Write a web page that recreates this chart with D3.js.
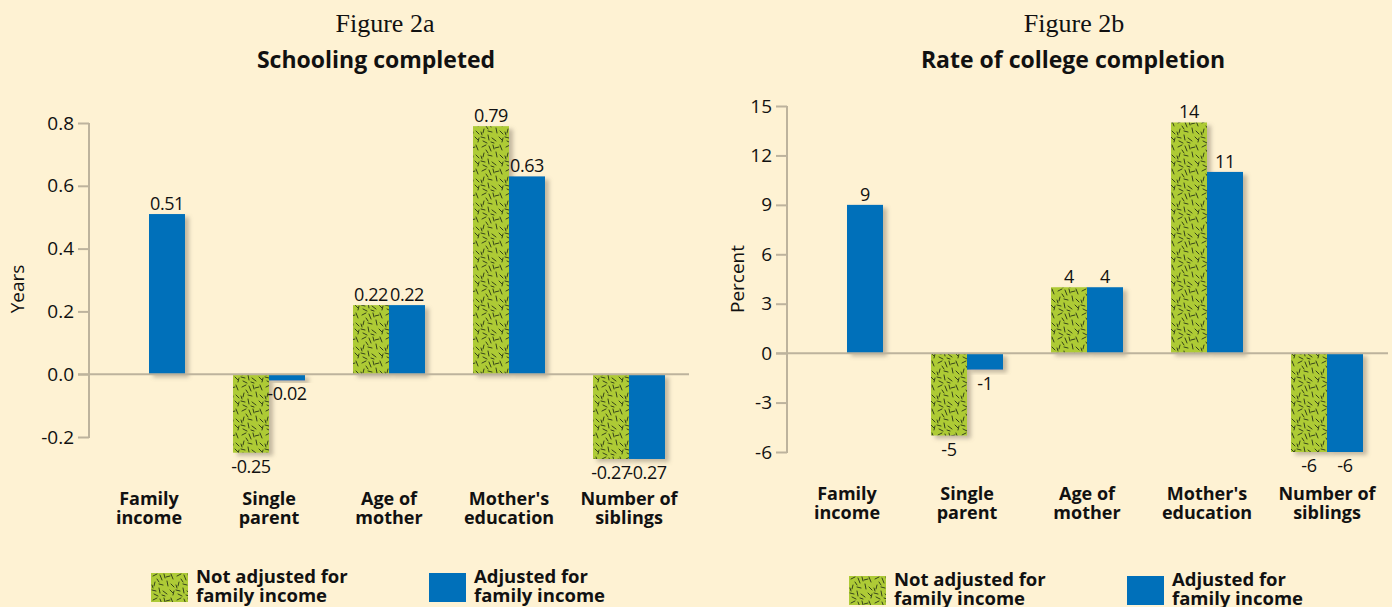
<!DOCTYPE html>
<html>
<head>
<meta charset="utf-8">
<script src="https://cdn.jsdelivr.net/npm/d3@7"></script>
<style>
  body { margin: 0; background: #fef2d3; }
  text { font-family: "Open Sans", sans-serif; fill: #111; }
  .fig { font-family: "Liberation Serif", serif; font-size: 26px; }
  .ttl { font-weight: 700; font-size: 23px; }
  .tick-lbl { font-size: 19px; }
  .val { font-size: 18px; letter-spacing: -0.4px; }
  .cat { font-weight: 700; font-size: 18px; }
  .leg { font-weight: 700; font-size: 18.5px; }
</style>
</head>
<body>
<div class="container"></div>
<script>
// ---- data ----
var categories = [["Family", "income"], ["Single", "parent"], ["Age of", "mother"], ["Mother's", "education"], ["Number of", "siblings"]];
var seriesNames = [["Not adjusted for", "family income"], ["Adjusted for", "family income"]];

var schoolingNotAdj = [null, -0.25, 0.22, 0.79, -0.27];
var schoolingAdj    = [0.51, -0.02, 0.22, 0.63, -0.27];
var schoolingTicks  = [-0.2, 0.0, 0.2, 0.4, 0.6, 0.8];

var collegeNotAdj = [null, -5, 4, 14, -6];
var collegeAdj    = [9, -1, 4, 11, -6];
var collegeTicks  = [-6, -3, 0, 3, 6, 9, 12, 15];

var width = 1392, height = 607;
var green = "#aecb36", blue = "#0070ba", axisCol = "#bdb39d";

var svg = d3.select("div.container").append("svg")
    .attr("width", width)
    .attr("height", height);

svg.append("rect").attr("width", width).attr("height", height).attr("fill", "#fef2d3");

var defs = svg.append("defs");

// speckled green fill
var pat = defs.append("pattern")
    .attr("id", "speckle")
    .attr("patternUnits", "userSpaceOnUse")
    .attr("width", 24).attr("height", 24);
pat.append("rect").attr("width", 24).attr("height", 24).attr("fill", green);
var dashes = [[2,3,6,1],[9,2,11,7],[15,4,19,3],[20,1,22,6],[4,9,3,13],[8,11,12,12],[16,8,17,13],[20,11,23,14],
              [1,17,5,18],[8,15,9,20],[12,18,16,21],[19,17,22,20],[3,21,7,23],[11,22,14,23],[22,22,23,18],[6,6,8,9],
              [13,1,14,5],[1,12,2,15]];
pat.selectAll("line").data(dashes).enter().append("line")
    .attr("x1", function(d) { return d[0]; }).attr("y1", function(d) { return d[1]; })
    .attr("x2", function(d) { return d[2]; }).attr("y2", function(d) { return d[3]; })
    .attr("stroke", "#35431a").attr("stroke-width", 1).attr("stroke-linecap", "round");

var shadow = defs.append("filter").attr("id", "shadow")
    .attr("x", "-20%").attr("y", "-20%").attr("width", "150%").attr("height", "150%");
shadow.append("feDropShadow")
    .attr("dx", 4).attr("dy", 3).attr("stdDeviation", 2)
    .attr("flood-color", "#7a7260").attr("flood-opacity", 0.45);

function fmtSchool(v) { return v.toFixed(2); }
function fmtCollege(v) { return String(v); }

drawChart({
    axisX: 89, right: 689, top: 123, bottom: 437,
    domain: [-0.2, 0.8], ticks: schoolingTicks, tickFmt: function(t) { return t.toFixed(1); },
    notAdj: schoolingNotAdj, adj: schoolingAdj, valFmt: fmtSchool,
    fig: "Figure 2a", figX: 385, title: "Schooling completed", titleX: 376,
    yTitle: "Years", yTitleX: 17, yTitleY: 289,
    catY: 505, legY: 573
});

drawChart({
    axisX: 787, right: 1388, top: 106, bottom: 452,
    domain: [-6, 15], ticks: collegeTicks, tickFmt: function(t) { return String(t); },
    notAdj: collegeNotAdj, adj: collegeAdj, valFmt: fmtCollege,
    fig: "Figure 2b", figX: 1074, title: "Rate of college completion", titleX: 1073,
    yTitle: "Percent", yTitleX: 737, yTitleY: 279,
    catY: 500, legY: 576
});

function drawChart(c) {
    var g = svg.append("g");

    var x = d3.scaleBand()
        .domain(d3.range(categories.length))
        .range([c.axisX, c.axisX + 600])
        .paddingInner(0.4)
        .paddingOuter(0.2);
    var x1 = d3.scaleBand().domain([0, 1]).range([0, x.bandwidth()]);
    var y = d3.scaleLinear().domain(c.domain).range([c.bottom, c.top]);

    // titles
    g.append("text").attr("class", "fig").attr("x", c.figX).attr("y", 32)
        .attr("text-anchor", "middle").text(c.fig);
    g.append("text").attr("class", "ttl").attr("x", c.titleX).attr("y", 68)
        .attr("text-anchor", "middle").text(c.title);

    // y axis
    var axis = d3.axisLeft(y).tickValues(c.ticks).tickFormat(c.tickFmt).tickSize(11).tickPadding(4);
    var ax = g.append("g").attr("transform", "translate(" + c.axisX + ",0)").call(axis);
    ax.select(".domain").remove();
    ax.selectAll(".tick line").attr("stroke", axisCol).attr("stroke-width", 2);
    ax.selectAll(".tick text").attr("class", "tick-lbl").attr("fill", "#111")
        .style("font-family", "'Open Sans', sans-serif").style("font-size", "19px");
    g.append("line")
        .attr("x1", c.axisX).attr("x2", c.axisX)
        .attr("y1", y(c.domain[1])).attr("y2", y(c.domain[0]) + 1)
        .attr("stroke", axisCol).attr("stroke-width", 2);

    g.append("text").attr("class", "tick-lbl")
        .attr("transform", "translate(" + c.yTitleX + "," + c.yTitleY + ") rotate(-90)")
        .attr("text-anchor", "middle").attr("dy", "0.35em").text(c.yTitle);

    // bars
    var rows = [];
    categories.forEach(function(cat, i) {
        if (c.notAdj[i] !== null) rows.push({ i: i, s: 0, v: c.notAdj[i] });
        if (c.adj[i] !== null) rows.push({ i: i, s: 1, v: c.adj[i] });
    });

    g.selectAll(".bar").data(rows).enter().append("rect")
        .attr("class", "bar")
        .attr("x", function(d) { return x(d.i) + x1(d.s); })
        .attr("width", x1.bandwidth())
        .attr("y", function(d) { return y(Math.max(0, d.v)); })
        .attr("height", function(d) { return Math.abs(y(d.v) - y(0)); })
        .attr("fill", function(d) { return d.s === 0 ? "url(#speckle)" : blue; })
        .attr("filter", "url(#shadow)");

    // zero line
    g.append("line")
        .attr("x1", c.axisX - 11).attr("x2", c.right)
        .attr("y1", y(0)).attr("y2", y(0))
        .attr("stroke", axisCol).attr("stroke-width", 2);

    g.selectAll(".val").data(rows).enter().append("text")
        .attr("class", "val")
        .attr("x", function(d) { return x(d.i) + x1(d.s) + x1.bandwidth() / 2; })
        .attr("y", function(d) { return d.v >= 0 ? y(d.v) - 4 : y(d.v) + 20; })
        .attr("text-anchor", "middle")
        .text(function(d) { return c.valFmt(d.v); });

    // category labels
    var cats = g.selectAll(".cat").data(categories).enter().append("text")
        .attr("class", "cat")
        .attr("text-anchor", "middle")
        .attr("transform", function(d, i) { return "translate(" + (x(i) + x.bandwidth() / 2) + "," + c.catY + ")"; });
    cats.append("tspan").attr("x", 0).attr("y", 0).text(function(d) { return d[0]; });
    cats.append("tspan").attr("x", 0).attr("y", 19).text(function(d) { return d[1]; });

    // legend
    var leg = g.selectAll(".legitem").data(seriesNames).enter().append("g")
        .attr("transform", function(d, i) { return "translate(" + (c.axisX + 62 + i * 278) + "," + c.legY + ")"; });
    leg.append("rect").attr("width", 37).attr("height", 29)
        .attr("fill", function(d, i) { return i === 0 ? "url(#speckle)" : blue; });
    var lt = leg.append("text").attr("class", "leg");
    lt.append("tspan").attr("x", 45).attr("y", 10).text(function(d) { return d[0]; });
    lt.append("tspan").attr("x", 45).attr("y", 29).text(function(d) { return d[1]; });
}
</script>
</body>
</html>
